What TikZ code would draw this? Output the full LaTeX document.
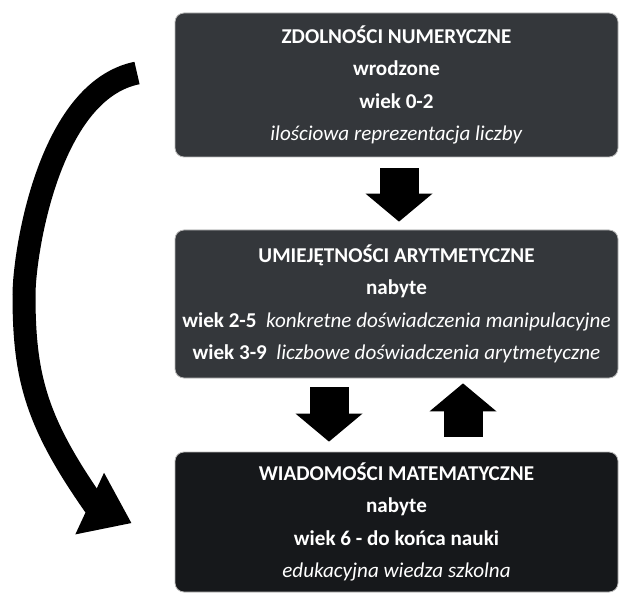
\documentclass[tikz,border=0pt]{standalone}
\usepackage{fontspec}
\setmainfont{Carlito}
\usetikzlibrary{arrows.meta,shapes.geometric,calc}

\definecolor{boxgray}{RGB}{52,55,59}
\definecolor{boxdark}{RGB}{22,24,27}

\begin{document}
\begin{tikzpicture}[
    x=1pt, y=-1pt,
    box/.style={draw=gray!55, line width=0.8pt, rounded corners=9pt, minimum width=443pt, inner sep=0pt, align=center, text=white, font=\fontsize{21.1}{32.5}\selectfont},
    blk/.style={line width=39pt, -{Triangle[width=67pt,length=28pt,line width=0pt]}},
    curvearrow/.style={line width=23pt}
]
    \useasboundingbox (0,0) rectangle (620,593);

    % Boxes
    \node[box, fill=boxgray, minimum height=144pt] (innate) at (396.5,85) {\textbf{ZDOLNOŚCI NUMERYCZNE}\\\textbf{wrodzone}\\\textbf{wiek 0-2}\\\textit{ilościowa reprezentacja liczby}};
    \node[box, fill=boxgray, minimum height=148pt] (skills) at (396.5,304) {\textbf{UMIEJĘTNOŚCI ARYTMETYCZNE}\\\textbf{nabyte}\\\textbf{wiek 2-5}\ \ \textit{konkretne doświadczenia manipulacyjne}\\\textbf{wiek 3-9}\ \ \textit{liczbowe doświadczenia arytmetyczne}};
    \node[box, fill=boxdark, minimum height=140pt] (knowledge) at (396.5,522) {\textbf{WIADOMOŚCI MATEMATYCZNE}\\\textbf{nabyte}\\\textbf{wiek 6 - do końca nauki}\\\textit{edukacyjna wiedza szkolna}};

    % Block arrows between boxes
    \draw[blk] ([xshift=2.5pt,yshift=-11pt]innate.south) -- ([xshift=2.5pt,yshift=8pt]skills.north);
    \draw[blk] ([xshift=-67.5pt,yshift=-9pt]skills.south) -- ([xshift=-67.5pt,yshift=10pt]knowledge.north);
    \draw[blk] ([xshift=66.5pt,yshift=15pt]knowledge.north) -- ([xshift=66.5pt,yshift=-5pt]skills.south);

    % Curved arrow on the left
    \coordinate (bendstart) at (137,73);
    \node[isosceles triangle, isosceles triangle stretches, minimum width=68pt, minimum height=46pt, inner sep=0pt, fill=black, rotate=-25, anchor=lower side] (bendhead) at (89.5,503.5) {};
    \draw[curvearrow] (bendstart) .. controls (48,91) and (24,255) .. (24,295)
        .. controls (24,377) and (36,422) .. ($(bendhead.lower side)!0.13!(bendhead.apex)$);
\end{tikzpicture}
\end{document}
